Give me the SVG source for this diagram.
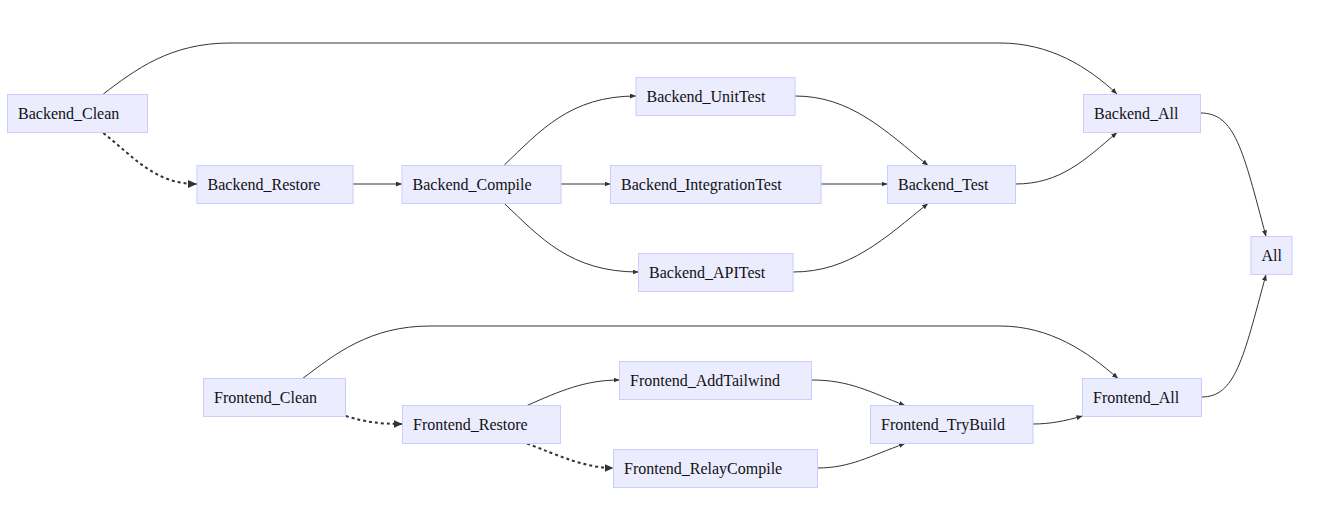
<svg xmlns="http://www.w3.org/2000/svg" width="1317" height="507" viewBox="0 0 1317 507" font-family="'Liberation Serif', 'DejaVu Serif', serif">
<style>
.node rect{fill:#ECECFF;stroke:#CCCCFF;stroke-width:1}
.node text{font-family:'Liberation Serif','DejaVu Serif',serif;font-size:16px;fill:#111}
.edge{fill:none;stroke:#333;stroke-width:1}
.dotted{fill:none;stroke:#333;stroke-width:2;stroke-dasharray:3 3}
</style>
<defs>
<marker id="arr" viewBox="0 0 6 5" refX="6" refY="2.5" markerWidth="6" markerHeight="5" markerUnits="userSpaceOnUse" orient="auto"><path d="M0,0 L6,2.5 L0,5 z" fill="#333"/></marker>
<marker id="arrBig" viewBox="0 0 9 8" refX="9" refY="4" markerWidth="9" markerHeight="8" markerUnits="userSpaceOnUse" orient="auto"><path d="M0,0 L9,4 L0,8 z" fill="#333"/></marker>
</defs>
<rect width="1317" height="507" fill="#fff"/>
<g id="connectors">
<path class="edge" marker-end="url(#arr)" d="M103.3,94 C135,70 170,43 230,43 L1000,43 C1050,43 1088,67 1117,94"/>
<path class="dotted" marker-end="url(#arrBig)" d="M103.3,133 C135,158 155,184 197,184"/>
<path class="edge" marker-end="url(#arr)" d="M353,184 L402,184"/>
<path class="edge" marker-end="url(#arr)" d="M504.3,165 C540,131 570,96 636,96"/>
<path class="edge" marker-end="url(#arr)" d="M561,184 L610.5,184"/>
<path class="edge" marker-end="url(#arr)" d="M504.3,203.5 C540,237 570,272 638.5,272"/>
<path class="edge" marker-end="url(#arr)" d="M795,96 C850,96 885,130 928,165.5"/>
<path class="edge" marker-end="url(#arr)" d="M821,184 L887.5,184"/>
<path class="edge" marker-end="url(#arr)" d="M793,272 C850,272 885,238 928,203.5"/>
<path class="edge" marker-end="url(#arr)" d="M1015.5,184 C1060,184 1085,160 1117,132.5"/>
<path class="edge" marker-end="url(#arr)" d="M1200.5,113 C1235,113 1243,150 1266,236.5"/>
<path class="edge" marker-end="url(#arr)" d="M1201.5,397 C1235,397 1243,360 1266,274.5"/>
<path class="edge" marker-end="url(#arr)" d="M302.7,378.5 C335,354 370,326 430,326 L1000,326 C1050,326 1088,352 1118,378.5"/>
<path class="dotted" marker-end="url(#arrBig)" d="M345.7,416 C365,422 380,424 402.5,424"/>
<path class="edge" marker-end="url(#arr)" d="M527,405.5 C560,391 585,380 619.5,380"/>
<path class="dotted" marker-end="url(#arrBig)" d="M527,443.5 C560,456 585,468 613.5,468"/>
<path class="edge" marker-end="url(#arr)" d="M811.5,380 C850,380 870,392 905,405.5"/>
<path class="edge" marker-end="url(#arr)" d="M817.5,468 C850,468 870,456 905,443.5"/>
<path class="edge" marker-end="url(#arr)" d="M1033,424 C1050,424 1065,421 1082.5,416"/>
</g>
<g id="Backend_Clean" class="node"><rect x="7.5" y="94.5" width="140" height="38"/><text x="18" y="119">Backend_Clean</text></g>
<g id="Backend_Restore" class="node"><rect x="197" y="165.5" width="156" height="38"/><text x="207.5" y="190">Backend_Restore</text></g>
<g id="Backend_Compile" class="node"><rect x="402" y="165.5" width="159" height="38"/><text x="412.5" y="190">Backend_Compile</text></g>
<g id="Backend_UnitTest" class="node"><rect x="636" y="77.5" width="159" height="38"/><text x="646.5" y="102">Backend_UnitTest</text></g>
<g id="Backend_IntegrationTest" class="node"><rect x="610.5" y="165.5" width="210.5" height="38"/><text x="621" y="190">Backend_IntegrationTest</text></g>
<g id="Backend_APITest" class="node"><rect x="638.5" y="253.5" width="154.5" height="38"/><text x="649" y="278">Backend_APITest</text></g>
<g id="Backend_Test" class="node"><rect x="887.5" y="165.5" width="128" height="38"/><text x="898" y="190">Backend_Test</text></g>
<g id="Backend_All" class="node"><rect x="1083.5" y="94.5" width="117" height="38"/><text x="1094" y="119">Backend_All</text></g>
<g id="All" class="node"><rect x="1251" y="236.5" width="41" height="38"/><text x="1261.5" y="261">All</text></g>
<g id="Frontend_Clean" class="node"><rect x="203.5" y="378.5" width="142" height="38"/><text x="214" y="403">Frontend_Clean</text></g>
<g id="Frontend_Restore" class="node"><rect x="402.5" y="405.5" width="158" height="38"/><text x="413" y="430">Frontend_Restore</text></g>
<g id="Frontend_AddTailwind" class="node"><rect x="619.5" y="361.5" width="192" height="38"/><text x="630" y="386">Frontend_AddTailwind</text></g>
<g id="Frontend_RelayCompile" class="node"><rect x="613.5" y="449.5" width="204" height="38"/><text x="624" y="474">Frontend_RelayCompile</text></g>
<g id="Frontend_TryBuild" class="node"><rect x="870.5" y="405.5" width="162.5" height="38"/><text x="881" y="430">Frontend_TryBuild</text></g>
<g id="Frontend_All" class="node"><rect x="1082.5" y="378.5" width="119" height="38"/><text x="1093" y="403">Frontend_All</text></g>
</svg>
